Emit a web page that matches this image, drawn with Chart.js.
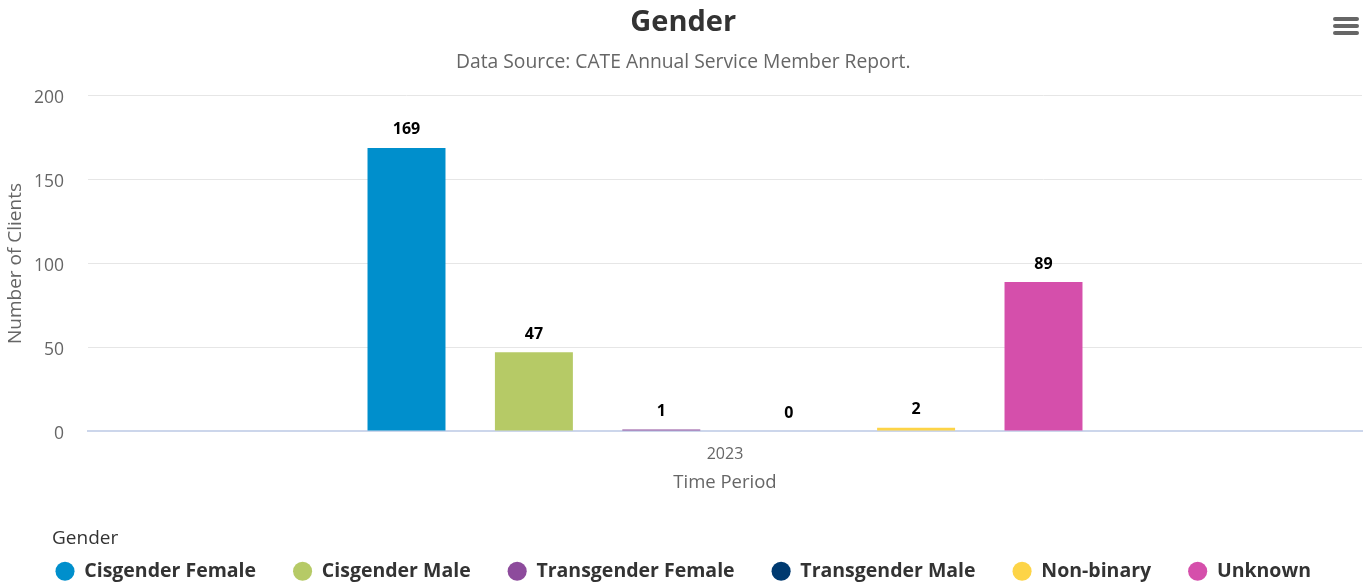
<!DOCTYPE html>
<html>
<head>
    <title>Gender</title>
    <script src="https://cdn.jsdelivr.net/npm/chart.js"></script>
    <style>
        body { margin: 0; background: #fff; }
        #wrap { position: relative; width: 1370px; height: 588px; }
        .menu { position: absolute; left: 1333px; top: 17px; width: 26px; }
        .menu span { display: block; height: 4px; background: #666; border-radius: 2px; margin-bottom: 3px; }
    </style>
</head>
<body>

<div id="wrap">
    <canvas id="chart" width="1370" height="588"></canvas>
    <div class="menu"><span></span><span></span><span></span></div>
</div>

<script>

const categories = ["2023"];
const seriesNames = ["Cisgender Female", "Cisgender Male", "Transgender Female", "Transgender Male", "Non-binary", "Unknown"];
const seriesValues = [169, 47, 1, 0, 2, 89];
const seriesColors = ["#008fcc", "#b6ca66", "#8d4b9c", "#003a70", "#fdd447", "#d54fab"];
const yTicks = [0, 50, 100, 150, 200];

const FONT = "'Open Sans', sans-serif";

/* value labels above bars */
const valueLabels = {
    id: "valueLabels",
    afterDatasetsDraw(chart) {
        const ctx = chart.ctx;
        ctx.save();
        ctx.font = "bold 16px " + FONT;
        ctx.fillStyle = "#000";
        ctx.textAlign = "center";
        ctx.textBaseline = "bottom";
        chart.data.datasets.forEach((ds, i) => {
            const meta = chart.getDatasetMeta(i);
            meta.data.forEach((bar, j) => {
                ctx.fillText(ds.data[j], bar.x, bar.y - 10);
            });
        });
        ctx.restore();
    }
};

/* move the legend block in from the left edge */
const legendShift = {
    id: "legendShift",
    afterLayout(chart) {
        chart.legend.left = 18.5;
    }
};

new Chart(document.getElementById("chart"), {
    type: "bar",
    data: {
        labels: categories,
        datasets: seriesNames.map((name, i) => ({
            label: name,
            data: [seriesValues[i]],
            backgroundColor: seriesColors[i],
            borderWidth: 0,
            categoryPercentage: 0.6,
            barPercentage: 0.612
        }))
    },
    options: {
        responsive: false,
        animation: false,
        layout: { padding: { left: 4.5, right: 8, top: 5, bottom: -3 } },
        plugins: {
            title: {
                display: true,
                text: "Gender",
                color: "#333",
                font: { family: FONT, size: 29, weight: "bold" },
                padding: { top: 0, bottom: 0 }
            },
            subtitle: {
                display: true,
                text: "Data Source: CATE Annual Service Member Report.",
                color: "#666",
                font: { family: FONT, size: 19.3 },
                padding: { top: 11.6, bottom: 21.4 }
            },
            legend: {
                position: "bottom",
                align: "start",
                title: {
                    display: true,
                    text: "\u2003\u2002\u2009\u200AGender",
                    position: "start",
                    color: "#333",
                    font: { family: FONT, size: 19 },
                    padding: { top: 0, bottom: -27.3 }
                },
                labels: {
                    usePointStyle: true,
                    pointStyle: "circle",
                    boxWidth: 19,
                    boxHeight: 13.5,
                    color: "#333",
                    font: { family: FONT, size: 19.5, weight: "bold" },
                    padding: 37
                }
            },
            tooltip: { enabled: false }
        },
        scales: {
            x: {
                z: 1,
                grid: { display: false },
                border: { color: "#ccd6eb", width: 2 },
                ticks: { color: "#666", font: { family: FONT, size: 16 }, padding: 5.4 },
                title: {
                    display: true,
                    text: "Time Period",
                    color: "#666",
                    font: { family: FONT, size: 18.5 },
                    padding: { top: 2.3, bottom: 35.4 }
                }
            },
            y: {
                min: 0,
                max: 200,
                afterBuildTicks: axis => { axis.ticks = yTicks.map(v => ({ value: v })); },
                afterFit: axis => { axis.width = 83.5; },
                grid: { color: "#e6e6e6", drawTicks: false },
                border: { display: false },
                ticks: { color: "#666", font: { family: FONT, size: 17.5 }, padding: 24, labelOffset: 2.5 },
                title: {
                    display: true,
                    text: "Number of Clients",
                    color: "#666",
                    font: { family: FONT, size: 19 },
                    padding: { top: 0, bottom: 6 }
                }
            }
        }
    },
    plugins: [valueLabels, legendShift]
});

</script>

</body>
</html>
